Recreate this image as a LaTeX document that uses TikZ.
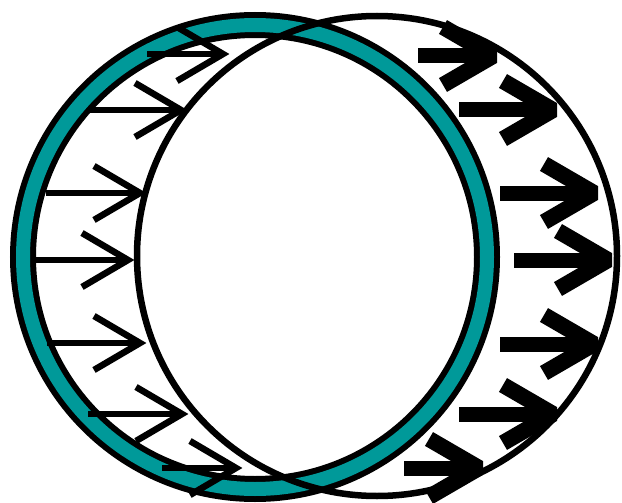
\documentclass[tikz,border=0pt]{standalone}
\definecolor{ringteal}{RGB}{0,153,153}

\begin{document}
\begin{tikzpicture}[x=1pt, y=-1pt, line width=6.5pt]
  \useasboundingbox (0,0) rectangle (622,503);
  % teal ring with black rims
  \draw[line width=26pt] (255,257) circle (232pt);
  \draw[ringteal, line width=14pt] (255,257) circle (232pt);
  % second circle
  \draw (377,256) circle (240pt);
  % thin arrows
  \foreach \a/\y/\b in {147/54/223, 88/110/181, 46/193/140, 32/260/128,
                        47/343/140, 88/414/182, 162/468/236} {
    \draw (\a,\y) -- (\b,\y);
    \draw (\b,\y) ++(-46,-27) -- (\b,\y) -- ++(-46,27);
  }
  % thick arrows
  \foreach \a/\y/\b in {418/56/493, 459/110/553, 500/193/594, 514/260/608,
                        500/344/594, 459/414/553, 404/468/479} {
    \draw[line width=15pt] (\a,\y) -- (\b,\y);
    \draw[line width=16pt, line join=bevel] (\b,\y) ++(-50,-29) -- (\b,\y) -- ++(-50,29);
  }
\end{tikzpicture}
\end{document}
